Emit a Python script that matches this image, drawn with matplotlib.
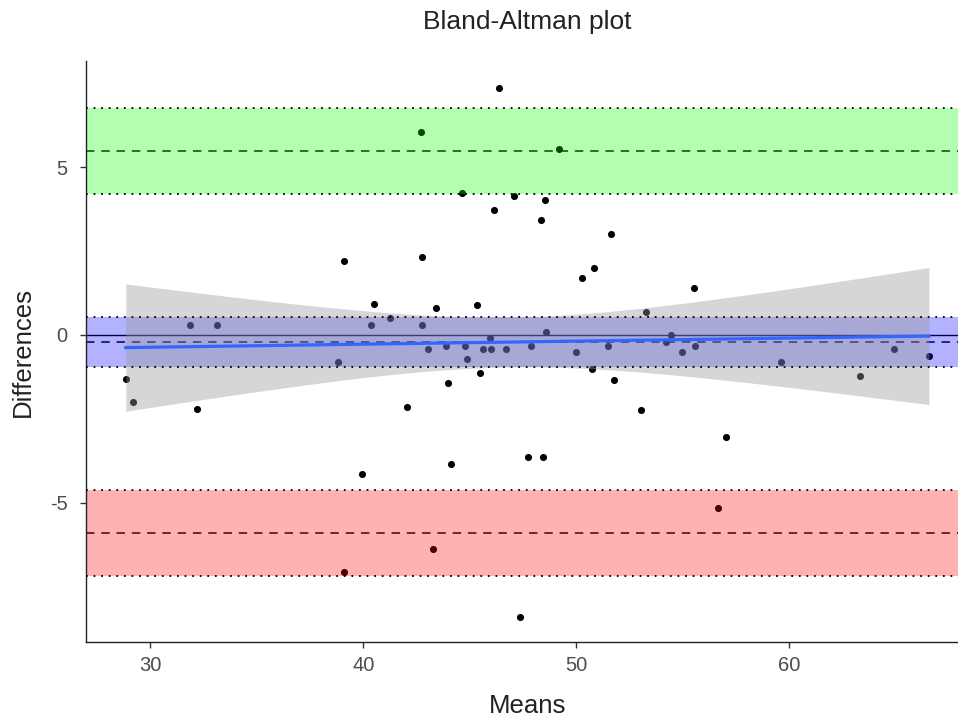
import numpy as np
import matplotlib
matplotlib.use('Agg')
import matplotlib.pyplot as plt

plt.rcParams['font.family'] = ['Liberation Sans', 'DejaVu Sans']
plt.rcParams['axes.unicode_minus'] = False  # 使用普通连字符作为负号

means = [28.86, 29.20, 31.86, 33.14, 32.19, 38.80, 39.11, 39.11, 39.96, 40.36,
         40.53, 41.25, 42.06, 42.70, 42.75, 42.77, 43.03, 43.27, 43.41, 43.88,
         44.00, 44.11, 44.63, 44.77, 44.88, 45.36, 45.48, 45.63, 45.97, 46.00,
         46.16, 46.36, 46.72, 47.07, 47.37, 47.72, 47.87, 48.33, 48.42, 48.53,
         48.56, 49.17, 49.97, 50.28, 50.72, 50.83, 51.47, 51.63, 51.77, 53.02,
         53.28, 54.22, 54.44, 54.97, 55.56, 55.53, 56.67, 57.03, 59.63, 63.33,
         64.92, 66.55]
diffs = [-1.30, -2.00, 0.30, 0.30, -2.20, -0.80, 2.20, -7.06, -4.15, 0.30,
         0.93, 0.50, -2.13, 6.04, 2.31, 0.30, -0.42, -6.37, 0.79, -0.32,
         -1.42, -3.85, 4.24, -0.32, -0.71, 0.90, -1.12, -0.42, -0.10, -0.42,
         3.72, 7.36, -0.42, 4.13, -8.38, -3.64, -0.32, 3.41, -3.64, 4.02,
         0.09, 5.54, -0.52, 1.71, -1.02, 2.00, -0.32, 3.02, -1.33, -2.23,
         0.69, -0.22, 0.00, -0.52, -0.32, 1.40, -5.16, -3.04, -0.81, -1.22,
         -0.42, -0.62]
x_ticks = [30, 40, 50, 60]
y_ticks = [-5, 0, 5]

x = np.array(means)
d = np.array(diffs)
n = len(d)
t_val = 2.0  # t(0.975, n-2) 近似

# Bland-Altman 统计量
bias = d.mean()
sd = d.std(ddof=1)
upper = bias + 1.96 * sd
lower = bias - 1.96 * sd
ci_bias = t_val * sd / np.sqrt(n)
ci_loa = t_val * sd * np.sqrt(3.0 / n)

# 线性回归及置信带
b1, b0 = np.polyfit(x, d, 1)
xs = np.linspace(x.min(), x.max(), 200)
fit = b0 + b1 * xs
resid = d - (b0 + b1 * x)
s = np.sqrt(np.sum(resid ** 2) / (n - 2))
se = s * np.sqrt(1.0 / n + (xs - x.mean()) ** 2 / np.sum((x - x.mean()) ** 2))

fig = plt.figure(figsize=(9.58, 7.2), dpi=100)
ax = fig.add_axes([0.0895, 0.1078, 0.922, 0.8072])

ax.scatter(x, d, s=26, color='black', linewidths=0, zorder=1.5)
ax.axhline(0, color='black', lw=1.0, zorder=1.5)
for yv in [bias, upper, lower]:
    ax.axhline(yv, color='black', lw=1.1, linestyle=(0, (5.5, 4.5)), zorder=1.5)

# 置信区间色带
ax.axhspan(bias - ci_bias, bias + ci_bias, color='blue', alpha=0.3, lw=0, zorder=2.5)
ax.axhspan(upper - ci_loa, upper + ci_loa, color='#00FF00', alpha=0.3, lw=0, zorder=2.5)
ax.axhspan(lower - ci_loa, lower + ci_loa, color='red', alpha=0.3, lw=0, zorder=2.5)

ax.fill_between(xs, fit - t_val * se, fit + t_val * se, color='#999999',
                alpha=0.4, linewidth=0, zorder=3)
ax.plot(xs, fit, color='#3366FF', lw=2.3, zorder=3.5)

for yv in [bias - ci_bias, bias + ci_bias, upper - ci_loa, upper + ci_loa,
           lower - ci_loa, lower + ci_loa]:
    ax.axhline(yv, color='black', lw=1.3, linestyle=(0, (1, 3.2)), zorder=5)

ax.set_xlim(26.98, 68.43)
ax.set_ylim(-9.15, 8.15)
ax.set_xticks(x_ticks)
ax.set_yticks(y_ticks)
for sp in ['top', 'right']:
    ax.spines[sp].set_visible(False)
for sp in ['left', 'bottom']:
    ax.spines[sp].set_color('#222222')
    ax.spines[sp].set_linewidth(1.0)
ax.tick_params(axis='both', length=4, width=1.0, color='#333333',
               labelsize=14.5, labelcolor='#4D4D4D')
ax.tick_params(axis='x', pad=6)
ax.tick_params(axis='y', pad=9)

fig.text(527.5 / 958, 1 - 22 / 720, 'Bland-Altman plot', ha='center', va='center',
         fontsize=19, color='#222222')
fig.text(527.5 / 958, 1 - 706 / 720, 'Means', ha='center', va='center',
         fontsize=18.5, color='#222222')
fig.text(23 / 958, 1 - 352 / 720, 'Differences', ha='center', va='center',
         rotation=90, fontsize=18.5, color='#222222')

fig.savefig('out.png', dpi=100)
